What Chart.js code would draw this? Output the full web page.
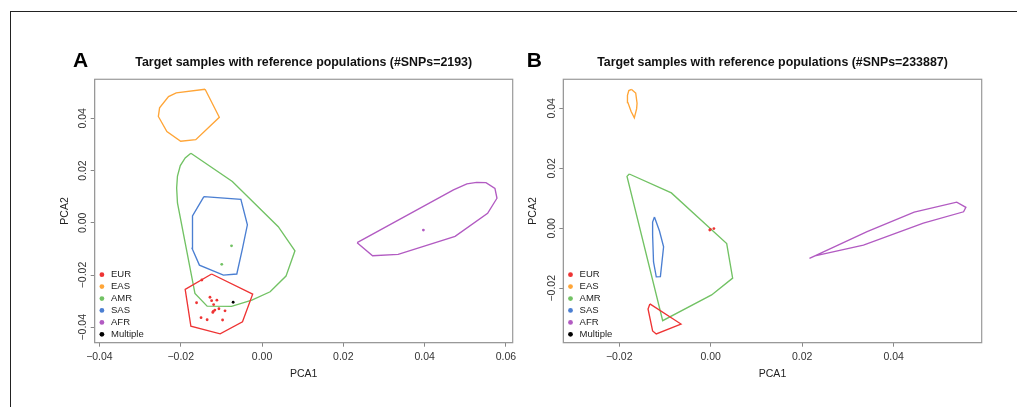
<!DOCTYPE html>
<html>
<head>
<meta charset="utf-8">
<script src="https://cdn.jsdelivr.net/npm/chart.js@4.4.1/dist/chart.umd.min.js"></script>
<style>
  body { margin: 0; background: #fff; }
  #frame { position: absolute; left: 10px; top: 11px; width: 1100px; height: 500px;
           border-top: 1px solid #222; border-left: 1px solid #222; }
  canvas { position: absolute; top: 0; }
</style>
</head>
<body>
<div id="frame"></div>
<canvas id="chartA" width="520" height="407" style="left:0"></canvas>
<canvas id="chartB" width="497" height="407" style="left:520px"></canvas>
<script>
const populations = ['EUR', 'EAS', 'AMR', 'SAS', 'AFR', 'Multiple'];
const popColors = ['#EE3434', '#FFA537', '#72C264', '#4B7FD2', '#B25BC2', '#000000'];

// panel A: #SNPs=2193 (hull vertices, PCA1/PCA2)
const hullA_EUR = [[-0.0124,-0.0196],[-0.0023,-0.0273],[-0.0048,-0.0379],[-0.0103,-0.0425],[-0.0175,-0.0396],[-0.0189,-0.0255]];
const hullA_EAS = [[-0.0140,0.0511],[-0.0105,0.0404],[-0.0163,0.0318],[-0.0200,0.0312],[-0.0234,0.0349],[-0.0255,0.0407],[-0.0252,0.0440],[-0.0230,0.0483],[-0.0211,0.0497]];
const hullA_AMR = [[-0.0175,0.0266],[-0.0073,0.0158],[0.0040,-0.0015],[0.0081,-0.0107],[0.0059,-0.0204],[0.0020,-0.0264],[-0.0025,-0.0296],[-0.0075,-0.0320],[-0.0135,-0.0319],[-0.0165,-0.0270],[-0.0189,-0.0077],[-0.0208,0.0076],[-0.0210,0.0133],[-0.0208,0.0179],[-0.0201,0.0219],[-0.0189,0.0248]];
const hullA_SAS = [[-0.0143,0.0100],[-0.0052,0.0090],[-0.0036,-0.0008],[-0.0048,-0.0098],[-0.0062,-0.0196],[-0.0095,-0.0200],[-0.0154,-0.0162],[-0.0172,-0.0098],[-0.0171,0.0026]];
const hullA_AFR = [[0.0234,-0.0076],[0.0272,-0.0126],[0.0335,-0.0121],[0.0475,-0.0052],[0.0555,0.0036],[0.0578,0.0094],[0.0573,0.0132],[0.0551,0.0154],[0.0528,0.0155],[0.0504,0.0149],[0.0471,0.0126]];
// panel A target samples
const ptsA_EUR = [[-0.0148,-0.0219],[-0.0128,-0.0285],[-0.0124,-0.0298],[-0.0111,-0.0296],[-0.0161,-0.0306],[-0.0119,-0.0313],[-0.0106,-0.0329],[-0.0116,-0.0334],[-0.0120,-0.0339],[-0.0121,-0.0343],[-0.0091,-0.0337],[-0.0150,-0.0363],[-0.0135,-0.0371],[-0.0097,-0.0372]];
const ptsA_AMR = [[-0.0075,-0.0088],[-0.0099,-0.0159]];
const ptsA_AFR = [[0.0397,-0.0028]];
const ptsA_Multiple = [[-0.0071,-0.0304]];

// panel B: #SNPs=233887
const hullB_EUR = [[-0.0133,-0.0252],[-0.0065,-0.0319],[-0.0119,-0.0352],[-0.0127,-0.0342],[-0.0137,-0.0269]];
const hullB_EAS = [[-0.0173,0.0463],[-0.0164,0.0451],[-0.0161,0.0417],[-0.0162,0.0398],[-0.0167,0.0368],[-0.0174,0.0389],[-0.0181,0.0419],[-0.0182,0.0443],[-0.0179,0.0459]];
const hullB_AMR = [[-0.0178,0.0181],[-0.0086,0.0118],[0.0035,-0.0051],[0.0048,-0.0166],[0.0002,-0.0222],[-0.0105,-0.0308],[-0.0183,0.0173]];
const hullB_SAS = [[-0.0123,0.0038],[-0.0112,-0.0009],[-0.0103,-0.0062],[-0.0110,-0.0161],[-0.0119,-0.0162],[-0.0125,-0.0112],[-0.0127,-0.0022],[-0.0127,0.0021]];
const hullB_AFR = [[0.0216,-0.0100],[0.0342,-0.0011],[0.0445,0.0054],[0.0538,0.0087],[0.0558,0.0070],[0.0553,0.0055],[0.0465,0.0017],[0.0334,-0.0056],[0.0228,-0.0092]];
const ptsB_EUR = [[-0.0002,-0.0006],[0.0007,-0.0001],[-0.0001,-0.0004]];

const xTicksA = [-0.04, -0.02, 0, 0.02, 0.04, 0.06];
const yTicksA = [-0.04, -0.02, 0, 0.02, 0.04];
const xTicksB = [-0.02, 0, 0.02, 0.04];
const yTicksB = [-0.02, 0, 0.02, 0.04];

Chart.defaults.font.family = '"Liberation Sans", Arial, sans-serif';

function fmt(v) {
    return (v < 0 ? '\u2212' : '') + Math.abs(v).toFixed(2);
}

function buildDatasets(hulls, points) {
    const sets = [];
    populations.forEach((pop, i) => {
        if (hulls[pop]) {
            const pts = hulls[pop].map(p => ({ x: p[0], y: p[1] }));
            pts.push(pts[0]);
            sets.push({
                label: pop + ' hull', data: pts, showLine: true,
                borderColor: popColors[i], borderWidth: 1.35,
                pointRadius: 0, pointHoverRadius: 0, tension: 0, fill: false
            });
        }
        if (points[pop]) {
            sets.push({
                label: pop, data: points[pop].map(p => ({ x: p[0], y: p[1] })),
                showLine: false, pointRadius: 1.4, pointBorderWidth: 0,
                pointBackgroundColor: popColors[i]
            });
        }
    });
    return sets;
}

// box round the plot, inside legend, panel letter
const decorPlugin = {
    id: 'decor',
    afterDraw(chart, args, opts) {
        const { ctx, chartArea: a } = chart;
        ctx.save();
        ctx.strokeStyle = '#999';
        ctx.lineWidth = 1.2;
        ctx.strokeRect(a.left, a.top, a.right - a.left, a.bottom - a.top);

        ctx.font = '9.5px "Liberation Sans", Arial, sans-serif';
        ctx.textBaseline = 'middle';
        populations.forEach((pop, i) => {
            const y = a.bottom - 8.4 - (populations.length - 1 - i) * 11.92;
            ctx.fillStyle = popColors[i];
            ctx.beginPath();
            ctx.arc(a.left + 7.2, y, 2.4, 0, Math.PI * 2);
            ctx.fill();
            ctx.fillStyle = '#222';
            ctx.fillText(pop, a.left + 16.3, y);
        });

        ctx.font = 'bold 21px "Liberation Sans", Arial, sans-serif';
        ctx.fillStyle = '#000';
        ctx.textBaseline = 'alphabetic';
        ctx.fillText(opts.letter, opts.letterX, 66.5);
        ctx.restore();
    }
};

function makeChart(id, cfg) {
    const tickFont = { size: 10.5 };
    return new Chart(document.getElementById(id), {
        type: 'scatter',
        data: { datasets: buildDatasets(cfg.hulls, cfg.points) },
        options: {
            responsive: false,
            animation: false,
            events: [],
            layout: { padding: { left: 0, right: cfg.padRight, top: 0, bottom: 0 } },
            plugins: {
                legend: { display: false },
                tooltip: { enabled: false },
                title: {
                    display: true, fullSize: false, text: cfg.title, color: '#111',
                    font: { size: 12.4, weight: 'bold' },
                    padding: { top: 55, bottom: 9.4 }
                },
                decor: { letter: cfg.letter, letterX: cfg.letterX }
            },
            scales: {
                x: {
                    type: 'linear', min: cfg.xMin, max: cfg.xMax,
                    afterBuildTicks: s => { s.ticks = cfg.xTicks.map(v => ({ value: v })); },
                    afterFit: s => { s.height = 64.3; },
                    grid: { drawOnChartArea: false, drawTicks: true, tickLength: 4, color: '#888' },
                    border: { display: true, color: '#999', width: 1 },
                    ticks: { font: tickFont, color: '#333', padding: 3.7, maxRotation: 0, autoSkip: false, callback: fmt },
                    title: { display: true, text: 'PCA1', color: '#222', font: { size: 10.5 }, padding: { top: 0, bottom: 27 } }
                },
                y: {
                    type: 'linear', min: cfg.yMin, max: cfg.yMax,
                    afterBuildTicks: s => { s.ticks = cfg.yTicks.map(v => ({ value: v })); },
                    afterFit: s => { s.width = cfg.yWidth; },
                    grid: { drawOnChartArea: false, drawTicks: true, tickLength: 4, color: '#888' },
                    border: { display: true, color: '#999', width: 1 },
                    ticks: { font: tickFont, color: '#333', padding: -5.6, minRotation: 90, maxRotation: 90,
                             crossAlign: 'center', autoSkip: false, callback: fmt },
                    title: { display: true, text: 'PCA2', color: '#222', font: { size: 10.5 }, padding: { top: cfg.yTitlePad, bottom: 0 } }
                }
            }
        },
        plugins: [decorPlugin]
    });
}

makeChart('chartA', {
    title: 'Target samples with reference populations (#SNPs=2193)',
    letter: 'A', letterX: 73,
    hulls: { EUR: hullA_EUR, EAS: hullA_EAS, AMR: hullA_AMR, SAS: hullA_SAS, AFR: hullA_AFR },
    points: { EUR: ptsA_EUR, AMR: ptsA_AMR, AFR: ptsA_AFR, Multiple: ptsA_Multiple },
    xMin: -0.04116, xMax: 0.06167, yMin: -0.04589, yMax: 0.05493,
    xTicks: xTicksA, yTicks: yTicksA,
    padRight: 7.3, yWidth: 94.7, yTitlePad: 58.7
});

makeChart('chartB', {
    title: 'Target samples with reference populations (#SNPs=233887)',
    letter: 'B', letterX: 6.7,
    hulls: { EUR: hullB_EUR, EAS: hullB_EAS, AMR: hullB_AMR, SAS: hullB_SAS, AFR: hullB_AFR },
    points: { EUR: ptsB_EUR },
    xMin: -0.03223, xMax: 0.05926, yMin: -0.03813, yMax: 0.04967,
    xTicks: xTicksB, yTicks: yTicksB,
    padRight: 35.3, yWidth: 43.3, yTitlePad: 6.4
});
</script>
</body>
</html>
